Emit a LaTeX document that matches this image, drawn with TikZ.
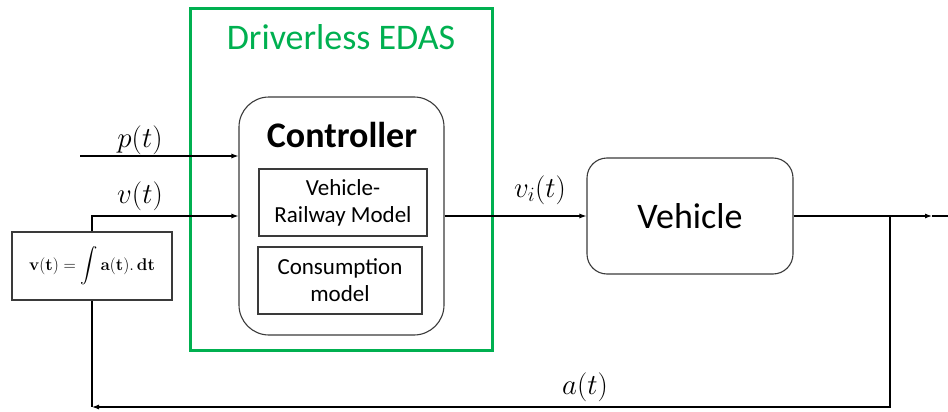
\RequirePackage{fix-cm}
\documentclass[tikz,border=0pt]{standalone}
\usepackage{amsmath}
\usepackage[no-math]{fontspec}
\setmainfont{Carlito}
\usetikzlibrary{arrows.meta}
\definecolor{edasgreen}{HTML}{00B050}
\definecolor{linegray}{HTML}{3A3A3A}
\tikzset{
  box/.style={draw=linegray, line width=1.1pt, inner sep=0pt, align=center},
  conn/.style={draw=black, line width=1.1pt},
  arr/.style={conn, -{Latex[length=7pt,width=5pt]}},
  mlabel/.style={font=\fontsize{29}{34}\selectfont, inner sep=0pt},
}
\begin{document}
\begin{tikzpicture}[x=1pt,y=-1pt]
\useasboundingbox (0,0) rectangle (948,412);
% green frame
\node[draw=edasgreen, line width=3pt, minimum width=302pt, minimum height=341pt, inner sep=0pt] (edas) at (341,179.5) {};
\node[text=edasgreen, font=\fontsize{36}{42}\selectfont, inner sep=0pt] (edastitle) at (341,37) {Driverless EDAS};
% controller
\node[box, rounded corners=30pt, minimum width=205pt, minimum height=238pt] (ctrl) at (341.5,216) {};
\node[font=\fontsize{36}{42}\selectfont\bfseries, inner sep=0pt] (ctrltitle) at (342,135) {Controller};
\node[box, minimum width=168pt, minimum height=67pt, font=\fontsize{23}{27}\selectfont] (vr) at (343,202.5) {Vehicle-\\Railway Model};
\node[box, minimum width=164pt, minimum height=67pt, font=\fontsize{23}{27}\selectfont] (cons) at (340,280.5) {Consumption\\model};
% vehicle
\node[box, rounded corners=20pt, minimum width=206pt, minimum height=116pt, font=\fontsize{36}{42}\selectfont] (veh) at (690,216) {Vehicle};
% integrator
\node[box, minimum width=160pt, minimum height=68pt, font=\fontsize{17}{21}\selectfont] (integ) at (92,266) {$\mathbf{v(t)} = \displaystyle\int \mathbf{a(t).\,dt}$};
% coordinates
\coordinate (pin) at (80,156);
\coordinate (outtip) at (932,216);
\coordinate (outend) at (948,216);
\coordinate (branch) at (890,216);
\coordinate (fbcorner) at (92,407);
% connectors
\draw[arr] (pin) -- (ctrl.west |- pin);
\draw[arr] (integ.north) |- (ctrl.west);
\draw[arr] (ctrl.east) -- (veh.west);
\draw[arr] (veh.east) -- (outtip);
\draw[conn] (outtip) -- (outend);
\draw[arr] (branch) |- (fbcorner);
\draw[conn] (integ.south) -- (fbcorner);
% labels
\node[mlabel] (plab) at (140,140) {$p(t)$};
\node[mlabel] (vlab) at (140,196) {$v(t)$};
\node[mlabel] (vilab) at (540,190) {$v_i(t)$};
\node[mlabel] (alab) at (585,387) {$a(t)$};
\end{tikzpicture}
\end{document}
